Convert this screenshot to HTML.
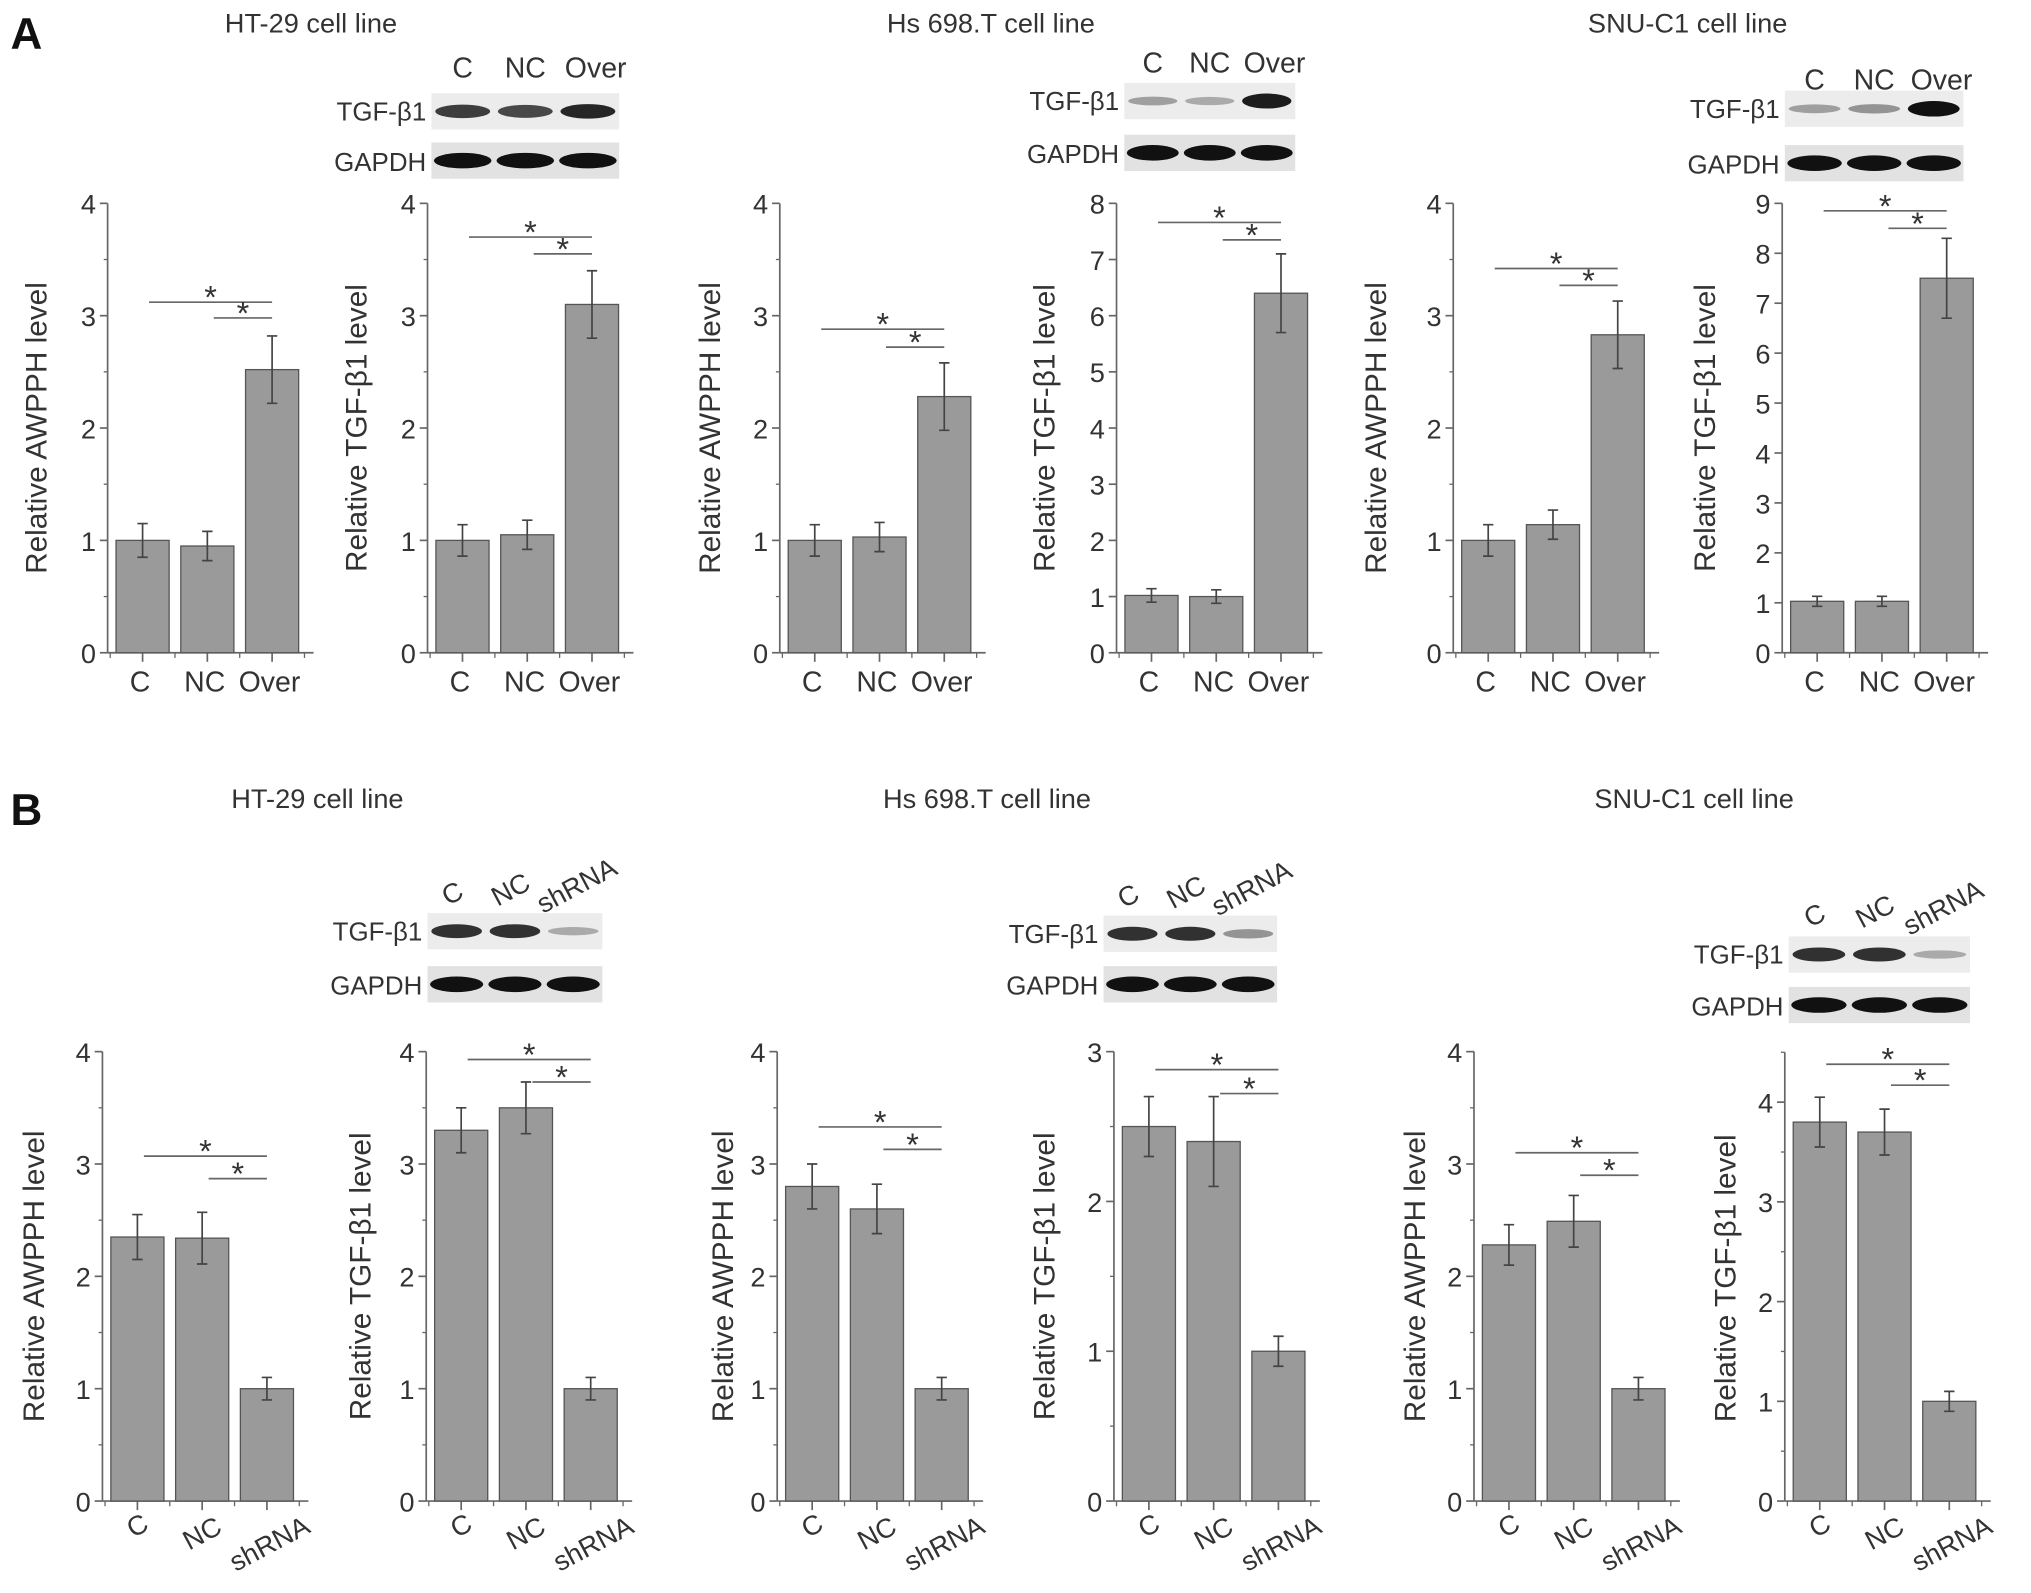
<!DOCTYPE html>
<html><head><meta charset="utf-8"><style>
html,body{margin:0;padding:0;background:#fff;}
svg{display:block;font-family:"Liberation Sans",Arial,sans-serif;}
</style></head><body>
<svg id="fig" width="2031" height="1593" viewBox="0 0 1568 1230" xmlns="http://www.w3.org/2000/svg">
<rect width="1568" height="1230" fill="#fff"/>
<text x="8" y="38" font-size="34" fill="#111" font-weight="bold">A</text>
<text x="8" y="637" font-size="34" fill="#111" font-weight="bold">B</text>
<text x="240" y="25" font-size="21" fill="#333" text-anchor="middle">HT-29  cell line</text>
<text x="765" y="25" font-size="21" fill="#333" text-anchor="middle">Hs 698.T cell line</text>
<text x="1303" y="25" font-size="21" fill="#333" text-anchor="middle">SNU-C1 cell line</text>
<text x="245" y="624" font-size="21" fill="#333" text-anchor="middle">HT-29  cell line</text>
<text x="762" y="624" font-size="21" fill="#333" text-anchor="middle">Hs 698.T cell line</text>
<text x="1308" y="624" font-size="21" fill="#333" text-anchor="middle">SNU-C1 cell line</text>
</svg>
<script>
const NS='http://www.w3.org/2000/svg';
const svg=document.getElementById('fig');
function mk(tag,attrs,parent,text){const e=document.createElementNS(NS,tag);for(const k in attrs)e.setAttribute(k,attrs[k]);if(text!==undefined)e.textContent=text;(parent||svg).appendChild(e);return e;}

// ---- data ----
const catsA=['C','NC','Over'];
const catsB=['C','NC','shRNA'];
const yTitles=['Relative AWPPH level','Relative TGF-β1 level'];
const a1Vals=[1.0,0.95,2.52];const a1Err=[0.15,0.13,0.3];const a1Sig=[3.12,2.98];
const a2Vals=[1.0,1.05,3.1];const a2Err=[0.14,0.13,0.3];const a2Sig=[3.7,3.55];
const a3Vals=[1.0,1.03,2.28];const a3Err=[0.14,0.13,0.3];const a3Sig=[2.88,2.72];
const a4Vals=[1.02,1.0,6.4];const a4Err=[0.12,0.12,0.7];const a4Sig=[7.66,7.35];
const a5Vals=[1.0,1.14,2.83];const a5Err=[0.14,0.13,0.3];const a5Sig=[3.42,3.27];
const a6Vals=[1.03,1.03,7.5];const a6Err=[0.1,0.1,0.8];const a6Sig=[8.85,8.5];
const b1Vals=[2.35,2.34,1.0];const b1Err=[0.2,0.23,0.1];const b1Sig=[3.07,2.87];
const b2Vals=[3.3,3.5,1.0];const b2Err=[0.2,0.23,0.1];const b2Sig=[3.93,3.73];
const b3Vals=[2.8,2.6,1.0];const b3Err=[0.2,0.22,0.1];const b3Sig=[3.33,3.13];
const b4Vals=[2.5,2.4,1.0];const b4Err=[0.2,0.3,0.1];const b4Sig=[2.88,2.72];
const b5Vals=[2.28,2.49,1.0];const b5Err=[0.18,0.23,0.1];const b5Sig=[3.1,2.9];
const b6Vals=[3.8,3.7,1.0];const b6Err=[0.25,0.23,0.1];const b6Sig=[4.38,4.17];

// layout (not data)
const charts=[
 {id:'a1',ax:83,y0:504,yt:157,max:4,vals:a1Vals,err:a1Err,sig:a1Sig,cats:catsA,t:0,tx:28},
 {id:'a2',ax:330,y0:504,yt:157,max:4,vals:a2Vals,err:a2Err,sig:a2Sig,cats:catsA,t:1,tx:275},
 {id:'a3',ax:602,y0:504,yt:157,max:4,vals:a3Vals,err:a3Err,sig:a3Sig,cats:catsA,t:0,tx:548},
 {id:'a4',ax:862,y0:504,yt:157,max:8,vals:a4Vals,err:a4Err,sig:a4Sig,cats:catsA,t:1,tx:806},
 {id:'a5',ax:1122,y0:504,yt:157,max:4,vals:a5Vals,err:a5Err,sig:a5Sig,cats:catsA,t:0,tx:1062},
 {id:'a6',ax:1376,y0:504,yt:157,max:9,vals:a6Vals,err:a6Err,sig:a6Sig,cats:catsA,t:1,tx:1316},
 {id:'b1',ax:79,y0:1159,yt:812,max:4,vals:b1Vals,err:b1Err,sig:b1Sig,cats:catsB,t:0,tx:26},
 {id:'b2',ax:329,y0:1159,yt:812,max:4,vals:b2Vals,err:b2Err,sig:b2Sig,cats:catsB,t:1,tx:278},
 {id:'b3',ax:600,y0:1159,yt:812,max:4,vals:b3Vals,err:b3Err,sig:b3Sig,cats:catsB,t:0,tx:558},
 {id:'b4',ax:860,y0:1159,yt:812,max:3,vals:b4Vals,err:b4Err,sig:b4Sig,cats:catsB,t:1,tx:806},
 {id:'b5',ax:1138,y0:1159,yt:812,max:4,vals:b5Vals,err:b5Err,sig:b5Sig,cats:catsB,t:0,tx:1092},
 {id:'b6',ax:1378,y0:1159,yt:851,max:4,vals:b6Vals,err:b6Err,sig:b6Sig,cats:catsB,t:1,tx:1332,ext:4.5}
];
const slot=50, barW=41;
charts.forEach(c=>{
 const g=mk('g',{});
 
 
 const y=v=>c.y0-(c.y0-c.yt)*v/c.max;
 const x=i=>c.ax+27+i*slot;
 const top=c.ext?y(c.ext):c.yt;
 const ax=mk('line',{x1:c.ax,y1:c.y0,x2:c.ax,y2:top,stroke:'#666','stroke-width':1.3},g);
 
 const xa=mk('line',{x1:c.ax,y1:c.y0,x2:c.ax+159,y2:c.y0,stroke:'#666','stroke-width':1.3},g);
 
 for(let v=0;v<=c.max;v++){
  mk('line',{x1:c.ax-6,y1:y(v),x2:c.ax,y2:y(v),stroke:'#666','stroke-width':1.3},g);
  const t=mk('text',{x:c.ax-9,y:y(v)+8,'font-size':21,fill:'#333','text-anchor':'end'},g,String(v));
  
  if(c.max<=4&&v<c.max)mk('line',{x1:c.ax-3,y1:y(v+0.5),x2:c.ax,y2:y(v+0.5),stroke:'#666','stroke-width':1},g);
 }
 if(c.ext)mk('line',{x1:c.ax-3,y1:y(4.5),x2:c.ax,y2:y(4.5),stroke:'#666','stroke-width':1},g);
 for(let i=0;i<=3;i++)mk('line',{x1:c.ax+2+i*slot,y1:c.y0,x2:c.ax+2+i*slot,y2:c.y0+4,stroke:'#666','stroke-width':1},g);
 const cy=(c.y0+c.yt)/2+(c.ext?-18:0);
 const yt=mk('text',{x:c.tx,y:cy+8,'font-size':23,fill:'#333','text-anchor':'middle',transform:`rotate(-90 ${c.tx} ${cy})`},g,yTitles[c.t]);
 
 c.vals.forEach((v,i)=>{
  const cx=x(i);
  mk('line',{x1:cx,y1:c.y0,x2:cx,y2:c.y0+7,stroke:'#666','stroke-width':1.3},g);
  const b=mk('rect',{x:cx-barW/2,y:y(v),width:barW,height:c.y0-y(v),fill:'#9a9a9a',stroke:'#555','stroke-width':1},g);
  
  const e=c.err[i];
  const eg=mk('path',{d:`M${cx},${y(v+e)}V${y(v-e)}M${cx-4},${y(v+e)}H${cx+4}M${cx-4},${y(v-e)}H${cx+4}`,stroke:'#444','stroke-width':1.3,fill:'none'},g);
  
  let lab;
  if(c.id[0]==='b'){
   const lx=cx+(i===2?2:0), ly=c.y0+(i===0?26:i===1?32:40);
   lab=mk('text',{x:lx,y:ly,'font-size':21,fill:'#333','text-anchor':'middle',transform:`rotate(-28 ${lx} ${ly-7})`},g,c.cats[i]);
  }else{
   lab=mk('text',{x:cx-2,y:c.y0+30,'font-size':22,fill:'#333','text-anchor':'middle'},g,c.cats[i]);
  }
  
 });
 [[0,2],[1,2]].forEach((p,k)=>{
  const sy=y(c.sig[k]);
  const l=mk('line',{x1:x(p[0])+5,y1:sy,x2:x(p[1]),y2:sy,stroke:'#666','stroke-width':1.3},g);
  
  const s=mk('text',{x:(x(p[0])+5+x(p[1]))/2,y:sy+5,'font-size':25,fill:'#333','text-anchor':'middle'},g,'*');
  
 });
});

// ---- western blots ----
const blots=[
 {id:'a-ht29',bx:333,bw:145,ty:72,gy:110,lab:catsA,ly:60,rot:false,tg:[0.8,0.75,0.9]},
 {id:'a-hs',bx:868,bw:132,ty:64,gy:104,lab:catsA,ly:56,rot:false,tg:[0.35,0.3,0.95]},
 {id:'a-snu',bx:1378,bw:138,ty:70,gy:112,lab:catsA,ly:69,rot:false,tg:[0.35,0.4,1]},
 {id:'b-ht29',bx:330,bw:135,ty:705,gy:746,lab:catsB,ly:696,rot:true,tg:[0.85,0.85,0.3]},
 {id:'b-hs',bx:852,bw:134,ty:707,gy:746,lab:catsB,ly:698,rot:true,tg:[0.85,0.85,0.4]},
 {id:'b-snu',bx:1381,bw:140,ty:723,gy:762,lab:catsB,ly:713,rot:true,tg:[0.85,0.85,0.3]}
];
blots.forEach(b=>{
 const g=mk('g',{});
 
 
 mk('rect',{x:b.bx,y:b.ty,width:b.bw,height:28,fill:'#ececec'},g);
 mk('rect',{x:b.bx,y:b.gy,width:b.bw,height:28,fill:'#e2e2e2'},g);
 const lw=b.bw/3;
 for(let i=0;i<3;i++){
  const cx=b.bx+lw*i+lw/2;
  const o=b.tg[i];
  mk('ellipse',{cx:cx,cy:b.ty+14,rx:lw/2-3,ry:2+4*o,fill:'#111','fill-opacity':o},g);
  mk('ellipse',{cx:cx,cy:b.gy+14,rx:lw/2-2,ry:6,fill:'#111'},g);
  let t;
  if(b.rot){
   const lx=cx+(i===2?6:0);
   t=mk('text',{x:lx,y:b.ly-(i*3),'font-size':21,fill:'#333','text-anchor':'middle',transform:`rotate(-28 ${lx} ${b.ly-i*3})`},g,b.lab[i]);
  }else{
   t=mk('text',{x:cx+(i===2?6:0),y:b.ly,'font-size':22,fill:'#333','text-anchor':'middle'},g,b.lab[i]);
  }
  
 }
 const t1=mk('text',{x:b.bx-4,y:b.ty+21,'font-size':20,fill:'#333','text-anchor':'end'},g,'TGF-β1');
 
 const t2=mk('text',{x:b.bx-4,y:b.gy+22,'font-size':20,fill:'#333','text-anchor':'end'},g,'GAPDH');
 
});
</script>
</body></html>
